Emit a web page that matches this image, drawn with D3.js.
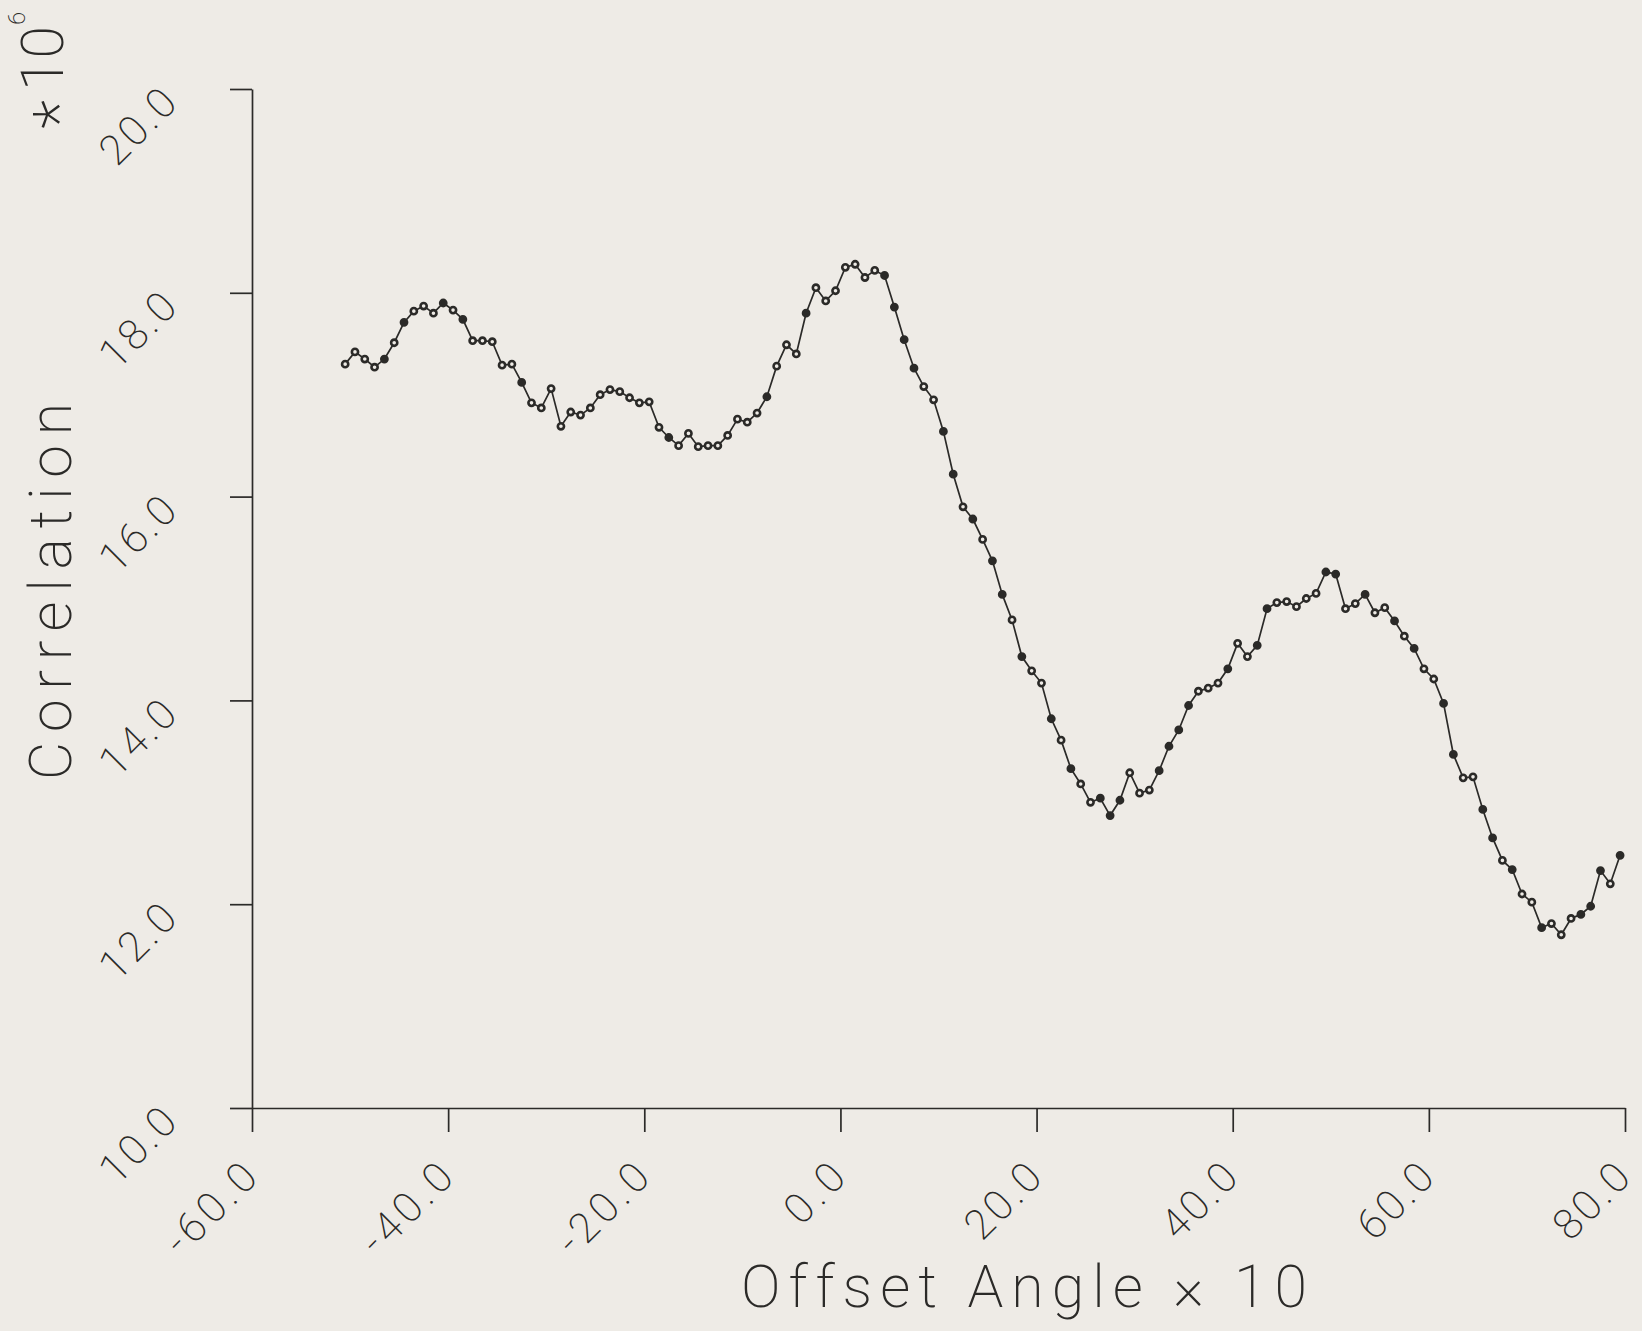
<!DOCTYPE html>
<html>
<head>
<meta charset="utf-8">
<script src="https://cdn.jsdelivr.net/npm/d3@7"></script>
<style>
  body { margin: 0; background: #eeebe6; }
  svg { display: block; }
  text { font-family: Roboto, 'Open Sans', sans-serif; font-weight: 200; fill: #2b2a28; }
</style>
</head>
<body>
<div id="chart"></div>
<script>
// Offset angle (x10) of each plotted sample
const angles = [
  -50.5, -49.5, -48.5, -47.5, -46.5, -45.5, -44.5, -43.5, -42.5, -41.5,
  -40.5, -39.5, -38.5, -37.5, -36.5, -35.5, -34.5, -33.5, -32.5, -31.5,
  -30.5, -29.5, -28.5, -27.5, -26.5, -25.5, -24.5, -23.5, -22.5, -21.5,
  -20.5, -19.5, -18.5, -17.5, -16.5, -15.5, -14.5, -13.5, -12.5, -11.5,
  -10.5, -9.5, -8.5, -7.5, -6.5, -5.5, -4.5, -3.5, -2.5, -1.5,
  -0.5, 0.5, 1.5, 2.5, 3.5, 4.5, 5.5, 6.5, 7.5, 8.5,
  9.5, 10.5, 11.5, 12.5, 13.5, 14.5, 15.5, 16.5, 17.5, 18.5,
  19.5, 20.5, 21.5, 22.5, 23.5, 24.5, 25.5, 26.5, 27.5, 28.5,
  29.5, 30.5, 31.5, 32.5, 33.5, 34.5, 35.5, 36.5, 37.5, 38.5,
  39.5, 40.5, 41.5, 42.5, 43.5, 44.5, 45.5, 46.5, 47.5, 48.5,
  49.5, 50.5, 51.5, 52.5, 53.5, 54.5, 55.5, 56.5, 57.5, 58.5,
  59.5, 60.5, 61.5, 62.5, 63.5, 64.5, 65.5, 66.5, 67.5, 68.5,
  69.5, 70.5, 71.5, 72.5, 73.5, 74.5, 75.5, 76.5, 77.5, 78.5,
  79.5
]

// Correlation (x10^6)
const correlation = [
  17.30, 17.42, 17.35, 17.27, 17.35, 17.51, 17.71, 17.82, 17.87, 17.80,
  17.90, 17.83, 17.74, 17.53, 17.53, 17.52, 17.29, 17.30, 17.12, 16.92,
  16.87, 17.06, 16.69, 16.83, 16.80, 16.87, 17.00, 17.05, 17.03, 16.97,
  16.92, 16.93, 16.68, 16.58, 16.50, 16.62, 16.49, 16.50, 16.50, 16.60,
  16.76, 16.73, 16.82, 16.98, 17.28, 17.49, 17.40, 17.80, 18.05, 17.92,
  18.02, 18.25, 18.28, 18.15, 18.22, 18.17, 17.86, 17.54, 17.26, 17.08,
  16.95, 16.64, 16.22, 15.90, 15.78, 15.58, 15.37, 15.04, 14.79, 14.43,
  14.29, 14.17, 13.82, 13.61, 13.33, 13.18, 13.00, 13.04, 12.87, 13.02,
  13.29, 13.09, 13.12, 13.31, 13.55, 13.71, 13.95, 14.09, 14.12, 14.17,
  14.31, 14.56, 14.43, 14.54, 14.90, 14.96, 14.97, 14.92, 15.00, 15.05,
  15.26, 15.24, 14.90, 14.95, 15.04, 14.86, 14.91, 14.78, 14.63, 14.51,
  14.31, 14.21, 13.97, 13.47, 13.24, 13.25, 12.93, 12.65, 12.43, 12.34,
  12.10, 12.02, 11.77, 11.81, 11.70, 11.86, 11.90, 11.98, 12.33, 12.20,
  12.48
]

// samples whose marker came out solid on the plotter (1-based)
const solidPoints = [5, 7, 11, 13, 19, 34, 44, 48, 56, 57, 58, 59, 62, 63, 65, 67, 68, 70,
  73, 75, 78, 79, 80, 84, 85, 86, 87, 91, 94, 95, 101, 102, 105, 108, 110, 113, 114,
  117, 118, 120, 123, 127, 128, 129, 131]

const xTicks = [-60, -40, -20, 0, 20, 40, 60, 80]
const yTicks = [10, 12, 14, 16, 18, 20]

const width = 1642
const height = 1331
const ink = '#2b2a28'
const paper = '#eeebe6'

const svg = d3.select('#chart')
    .append('svg')
    .attr('width', width)
    .attr('height', height)

svg.append('rect')
    .attr('width', width)
    .attr('height', height)
    .attr('fill', paper)

const x = d3.scaleLinear().domain([-60, 80]).range([252, 1625])
const y = d3.scaleLinear().domain([10, 20]).range([1108, 89])

const fmt = d => d.toFixed(1)

// x axis, labels slanted up to the right
const xAxis = d3.axisBottom(x)
    .tickValues(xTicks)
    .tickSizeInner(24)
    .tickSizeOuter(0)
    .tickFormat(fmt)

svg.append('g')
    .attr('transform', 'translate(0,' + y(10) + ')')
    .call(xAxis)
    .attr('font-family', null)
    .attr('font-size', null)
    .style('color', ink)
    .call(g => g.selectAll('path, line').attr('stroke-width', 1.7))
    .call(g => g.selectAll('.tick text')
        .attr('x', 0)
        .attr('y', 0)
        .attr('dy', null)
        .attr('text-anchor', 'end')
        .attr('font-size', 42)
        .attr('textLength', d => fmt(d).length * 22)
        .attr('lengthAdjust', 'spacing')
        .attr('transform', 'translate(7,72) rotate(-45)'))

// y axis
const yAxis = d3.axisLeft(y)
    .tickValues(yTicks)
    .tickSizeInner(22)
    .tickSizeOuter(0)
    .tickFormat(fmt)

svg.append('g')
    .attr('transform', 'translate(' + x(-60) + ',0)')
    .call(yAxis)
    .attr('font-family', null)
    .attr('font-size', null)
    .style('color', ink)
    .call(g => g.selectAll('path, line').attr('stroke-width', 1.7))
    .call(g => g.selectAll('.tick text')
        .attr('x', 0)
        .attr('y', 0)
        .attr('dy', null)
        .attr('text-anchor', 'end')
        .attr('font-size', 42)
        .attr('textLength', d => fmt(d).length * 22)
        .attr('lengthAdjust', 'spacing')
        .attr('transform', 'translate(-73,16) rotate(-45)'))

// the curve
const line = d3.line()
    .x((d, i) => x(angles[i]))
    .y(d => y(d))

svg.append('path')
    .datum(correlation)
    .attr('d', line)
    .attr('fill', 'none')
    .attr('stroke', ink)
    .attr('stroke-width', 1.7)

// open rings with a small hole, some filled in by the pen
svg.selectAll('circle.dot')
    .data(correlation)
    .enter().append('circle')
    .attr('class', 'dot')
    .attr('cx', (d, i) => x(angles[i]))
    .attr('cy', d => y(d))
    .attr('r', 3.1)
    .attr('fill', (d, i) => solidPoints.includes(i + 1) ? ink : paper)
    .attr('stroke', ink)
    .attr('stroke-width', 2.6)

// axis titles
svg.append('text')
    .attr('x', 741)
    .attr('y', 1307)
    .attr('font-size', 59)
    .attr('textLength', 566)
    .attr('lengthAdjust', 'spacing')
    .text('Offset Angle × 10')

svg.append('text')
    .attr('transform', 'translate(71,780) rotate(-90)')
    .attr('font-size', 59)
    .attr('textLength', 377)
    .attr('lengthAdjust', 'spacing')
    .text('Correlation')

// scale factor in the top left corner
const mult = svg.append('g')
    .attr('transform', 'translate(63,0) rotate(-90)')

mult.append('text')
    .attr('x', -114.5)
    .attr('y', 19)
    .attr('text-anchor', 'middle')
    .attr('font-size', 68)
    .text('*')

mult.append('text')
    .attr('x', -58.5)
    .attr('y', 0)
    .attr('text-anchor', 'middle')
    .attr('font-size', 59)
    .text('10')

mult.append('text')
    .attr('x', -18.5)
    .attr('y', -38)
    .attr('text-anchor', 'middle')
    .attr('font-size', 24)
    .text('6')
</script>
</body>
</html>
